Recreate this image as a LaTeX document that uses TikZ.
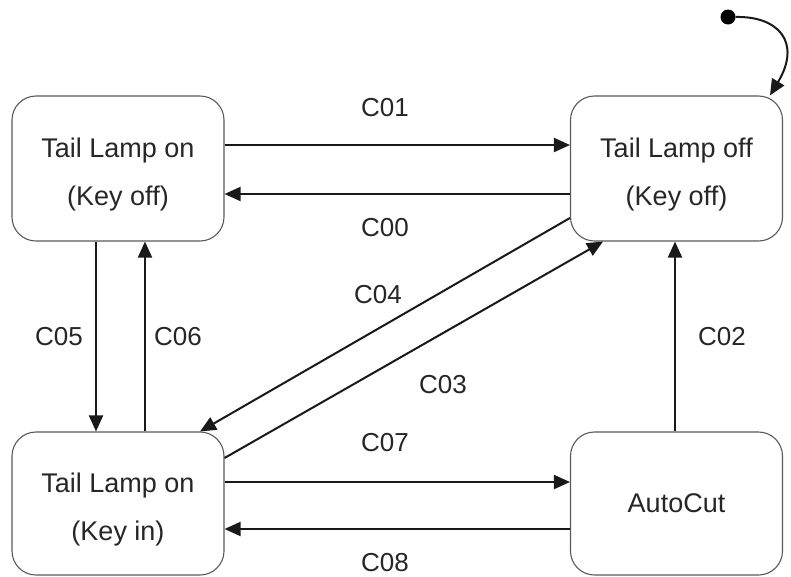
\documentclass[tikz,border=0pt]{standalone}
\usepackage{fontspec}
\setmainfont{Liberation Sans}
\usetikzlibrary{arrows.meta}
\begin{document}
\begin{tikzpicture}[x=1pt,y=-1pt,
  state/.style={draw=black!65, line width=1.1pt, rounded corners=24pt, minimum width=212pt, minimum height=145pt, inner sep=0pt},
  stxt/.style={align=center, inner sep=0pt, font=\fontsize{27}{48}\selectfont, text=black!85},
  lbl/.style={font=\fontsize{26}{30}\selectfont, text=black!85, inner sep=0pt},
  arr/.style={line width=2pt, draw=black!90, -{Triangle[length=16pt,width=14pt]}}]
\useasboundingbox (0,0) rectangle (791,576);
\node[state] (TL) at (118,168.5) {};
\node[state] (TR) at (676.5,168.5) {};
\node[state, minimum height=143pt] (BL) at (118,503.5) {};
\node[state, minimum height=143pt] (BR) at (676.5,503.5) {};
\node[stxt] (TLt) at ([yshift=-6pt]TL.center) {Tail Lamp on\\(Key off)};
\node[stxt] (TRt) at ([yshift=-6pt]TR.center) {Tail Lamp off\\(Key off)};
\node[stxt] (BLt) at ([yshift=-6pt]BL.center) {Tail Lamp on\\(Key in)};
\node[stxt] (BRt) at (BR.center) {AutoCut};
\node[circle, fill=black, inner sep=0pt, minimum size=15pt] (init) at (728,17) {};
% connectors
\draw[arr] (init.east) .. controls (778,16) and (802,42) .. (TR.north -| 770,0);
\draw[arr] (TL.east |- 0,145) -- (TR.west |- 0,145);
\draw[arr] (TR.west |- 0,194) -- (TL.east |- 0,194);
\draw[arr] (TL.south -| 96,0) -- (BL.north -| 96,0);
\draw[arr] (BL.north -| 145,0) -- (TL.south -| 145,0);
\draw[arr] (TR.west |- 0,218) -- (BL.north -| 200,0);
\draw[arr] (BL.east |- 0,458) -- (TR.south -| 603,0);
\draw[arr] (BL.east |- 0,482) -- (BR.west |- 0,482);
\draw[arr] (BR.west |- 0,529) -- (BL.east |- 0,529);
\draw[arr] (BR.north -| 675,0) -- (TR.south -| 675,0);
% labels
\node[lbl] (l01) at (385,108) {C01};
\node[lbl] (l00) at (385,228) {C00};
\node[lbl] (l05) at (59,337) {C05};
\node[lbl] (l06) at (178,337) {C06};
\node[lbl] (l04) at (378,295) {C04};
\node[lbl] (l03) at (443,385) {C03};
\node[lbl] (l02) at (722,337) {C02};
\node[lbl] (l07) at (385,443) {C07};
\node[lbl] (l08) at (385,563) {C08};
\end{tikzpicture}
\end{document}
